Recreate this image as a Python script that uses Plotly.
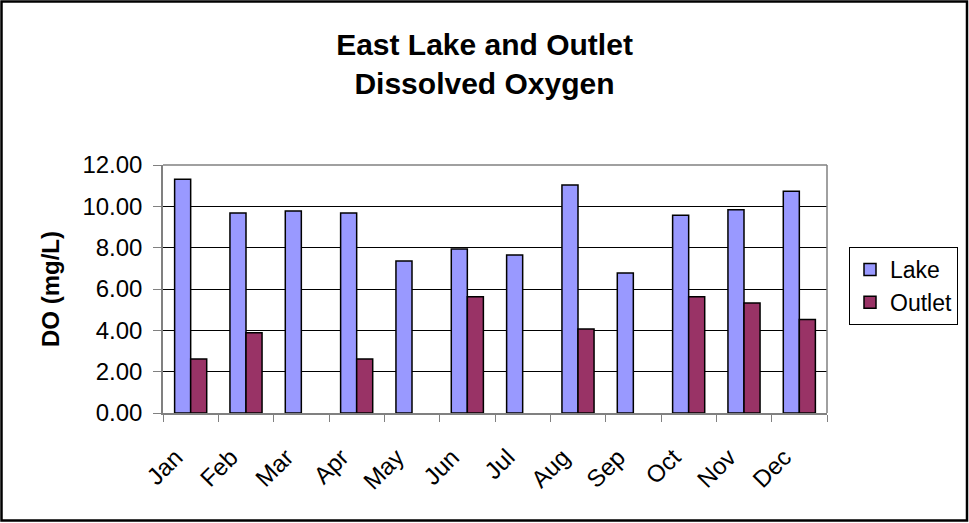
import plotly.graph_objects as go

months = ["Jan", "Feb", "Mar", "Apr", "May", "Jun",
          "Jul", "Aug", "Sep", "Oct", "Nov", "Dec"]
lake = [11.31, 9.68, 9.78, 9.68, 7.36, 7.94, 7.64, 11.03, 6.77, 9.57, 9.84, 10.73]
outlet = [2.61, 3.88, None, 2.61, None, 5.62, None, 4.06, None, 5.62, 5.32, 4.53]
y_ticks = [0, 2, 4, 6, 8, 10, 12]

W, H = 969, 523
L, R, T, B = 163, 142, 165, 110
pw, ph = W - L - R, H - T - B

fig = go.Figure()
fig.add_trace(go.Bar(name="Lake", x=months, y=lake,
                     marker=dict(color="#9999FF", line=dict(color="black", width=1.5))))
fig.add_trace(go.Bar(name="Outlet", x=months, y=outlet,
                     marker=dict(color="#993366", line=dict(color="black", width=1.5))))

font = "Arial, Liberation Sans, sans-serif"


def px_x(p):
    return (p - L) / pw


def px_y(p):
    return (H - B - p) / ph


fig.update_layout(
    template="none",
    width=W, height=H,
    margin=dict(l=L, r=R, t=T, b=B, autoexpand=False),
    paper_bgcolor="white", plot_bgcolor="white",
    barmode="group", bargap=0.42, bargroupgap=0,
    font=dict(family=font, color="black"),
    title=dict(text="<b>East Lake and Outlet<br>Dissolved Oxygen</b>",
               x=0.5, xanchor="center", xref="container",
               y=1 - 55 / H, yanchor="middle", yref="container",
               font=dict(size=30, family=font)),
    legend=dict(x=px_x(849), y=px_y(247), xanchor="left", yanchor="top",
                bordercolor="black", borderwidth=1, bgcolor="white",
                font=dict(size=23, family=font), tracegroupgap=14,
                itemwidth=30),
    showlegend=True,
)

fig.update_xaxes(
    type="category", tickangle=-45, tickfont=dict(size=24, family=font),
    showline=True, linecolor="#808080", linewidth=1.5,
    ticks="outside", tickson="boundaries", ticklen=7, tickcolor="#808080",
    ticklabelstandoff=19, ticklabelshift=-15,
    showgrid=False, automargin=False,
)
fig.update_yaxes(
    range=[0, 12], tickvals=y_ticks, tickformat=".2f",
    tickfont=dict(size=24, family=font),
    showline=True, linecolor="#808080", linewidth=1.5,
    ticks="outside", ticklen=8, tickcolor="#808080",
    ticklabelstandoff=6,
    showgrid=True, gridcolor="black", gridwidth=1,
    zeroline=False, automargin=False,
    title=dict(text="<b>DO (mg/L)</b>", font=dict(size=24, family=font), standoff=16),
)

# gray frame on the top and right of the plot area
fig.add_shape(type="line", xref="paper", yref="paper", x0=0, x1=1, y0=1, y1=1,
              line=dict(color="#808080", width=1.5))
fig.add_shape(type="line", xref="paper", yref="paper", x0=1, x1=1, y0=0, y1=1,
              line=dict(color="#808080", width=1.5))
# outer chart border
fig.add_shape(type="rect", xref="paper", yref="paper",
              x0=px_x(1.5), x1=px_x(W - 2), y0=px_y(1.5), y1=px_y(H - 2.5),
              line=dict(color="black", width=2.5), layer="above")

fig.write_html("out.html")
